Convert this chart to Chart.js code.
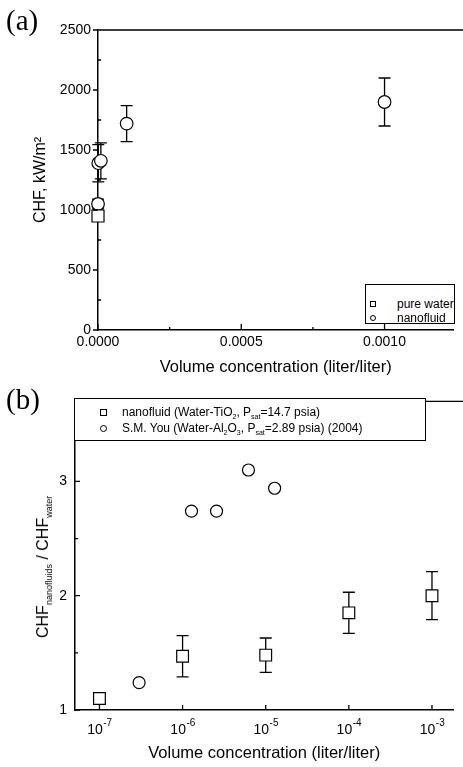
<!DOCTYPE html>
<html>
<head>
<meta charset="utf-8">
<script src="https://cdn.jsdelivr.net/npm/chart.js@4.4.1/dist/chart.umd.min.js"></script>
<style>
  html, body { margin: 0; padding: 0; background: #fff; }
  body { width: 463px; height: 767px; position: relative; overflow: hidden; font-family: "Liberation Sans", Arial, sans-serif; color: #000; }
  canvas { position: absolute; left: 0; }
  #chartA { top: 0; }
  #chartB { top: 385px; }
  .panel { position: absolute; left: 6px; font-family: "Liberation Serif", "Times New Roman", serif; font-size: 29px; line-height: 29px; }
  .legend { position: absolute; border: 1px solid #000; background: #fff; font-size: 12px; box-sizing: border-box; }
  .row { position: absolute; left: 0; white-space: nowrap; line-height: 12px; height: 12px; }
  .sym { position: absolute; border: 1px solid #000; box-sizing: border-box; background: #fff; }
  .txt { position: absolute; top: 0; }
  .sub { font-size: 7px; position: relative; top: 3px; }
  #ytitleB { position: absolute; left: 43px; top: 567px; transform: translate(-50%, -50%) rotate(-90deg); white-space: nowrap; font-size: 16px; }
  #ytitleB .s { font-size: 9px; position: relative; top: 4px; }
</style>
</head>
<body>
<canvas id="chartA" width="463" height="385"></canvas>
<canvas id="chartB" width="463" height="382"></canvas>

<div class="panel" style="top:6px">(a)</div>
<div class="panel" style="top:385px">(b)</div>

<div class="legend" style="left:365px; top:284px; width:90px; height:40px;">
  <div class="row" style="top:13px; width:88px;">
    <div class="sym" style="left:4px; top:3px; width:6px; height:6px;"></div>
    <span class="txt" style="left:31px;">pure water</span>
  </div>
  <div class="row" style="top:27px; width:88px;">
    <div class="sym" style="left:4px; top:3px; width:6px; height:6px; border-radius:50%;"></div>
    <span class="txt" style="left:31px;">nanofluid</span>
  </div>
</div>

<div class="legend" style="left:74px; top:398px; width:352px; height:43px;">
  <div class="row" style="top:7px;">
    <div class="sym" style="left:25px; top:3px; width:7px; height:7px;"></div>
    <span class="txt" style="left:47px;">nanofluid (Water-TiO<span class="sub">2</span>, P<span class="sub">sat</span>=14.7 psia)</span>
  </div>
  <div class="row" style="top:23px;">
    <div class="sym" style="left:25px; top:3px; width:7px; height:7px; border-radius:50%;"></div>
    <span class="txt" style="left:47px;">S.M. You (Water-Al<span class="sub">2</span>O<span class="sub">3</span>, P<span class="sub">sat</span>=2.89 psia) (2004)</span>
  </div>
</div>

<div id="ytitleB">CHF<span class="s">nanofluids</span> / CHF<span class="s">water</span></div>

<script>
// (a) CHF vs volume concentration
const waterX = [0];
const waterY = [950];
const nanoX = [1e-7, 1e-6, 1e-5, 1e-4, 1e-3];
const nanoY = [1050, 1390, 1410, 1720, 1900];
const nanoErr = [40, 155, 150, 150, 200];

const ticksAx = [0, 0.00025, 0.0005, 0.00075, 0.001];
const labelsAx = ['0.0000', '', '0.0005', '', '0.0010'];
const ticksAy = [0, 250, 500, 750, 1000, 1250, 1500, 1750, 2000, 2250, 2500];

// (b) CHF ratio vs volume concentration (log)
const ratioX = [1e-7, 1e-6, 1e-5, 1e-4, 1e-3];
const ratioY = [1.10, 1.47, 1.48, 1.85, 2.00];
const ratioErr = [0.04, 0.18, 0.15, 0.18, 0.21];
const youX = [3e-7, 1.28e-6, 2.56e-6, 6.2e-6, 1.28e-5];
const youY = [1.24, 2.74, 2.74, 3.10, 2.94];

const ticksBx = [1e-7, 1e-6, 1e-5, 1e-4, 1e-3];
const expBx = ['-7', '-6', '-5', '-4', '-3'];
const ticksBy = [1, 1.5, 2, 2.5, 3, 3.5];

const FONT = '"Liberation Sans", Arial, sans-serif';

function pts(xs, ys) {
    return xs.map((x, i) => ({ x: x, y: ys[i] }));
}

// vertical error bars, drawn under the markers
const errorBars = {
    id: 'errorBars',
    beforeDatasetsDraw(chart) {
        const ctx = chart.ctx;
        const xs = chart.scales.x, ys = chart.scales.y;
        ctx.save();
        ctx.strokeStyle = '#000';
        ctx.lineWidth = 1.3;
        chart.data.datasets.forEach(ds => {
            if (!ds.errors) return;
            ds.data.forEach((p, i) => {
                const e = ds.errors[i];
                if (!e) return;
                const px = xs.getPixelForValue(p.x);
                const top = ys.getPixelForValue(p.y + e);
                const bot = ys.getPixelForValue(p.y - e);
                ctx.beginPath();
                ctx.moveTo(px, top); ctx.lineTo(px, bot);
                ctx.moveTo(px - 6, top); ctx.lineTo(px + 6, top);
                ctx.moveTo(px - 6, bot); ctx.lineTo(px + 6, bot);
                ctx.stroke();
            });
        });
        ctx.restore();
    }
};

// tick marks + top frame line
function makeTicks(cfg) {
    return {
        id: 'tickMarks',
        afterDraw(chart) {
            const ctx = chart.ctx;
            const area = chart.chartArea;
            ctx.save();
            ctx.strokeStyle = '#000';
            ctx.lineWidth = 1.3;
            ctx.beginPath();
            ctx.moveTo(area.left, area.top);
            ctx.lineTo(chart.width, area.top);
            const sx = chart.scales.x, sy = chart.scales.y;
            sx.ticks.forEach(t => {
                const major = cfg.xMajor(t.value);
                const len = major ? cfg.xLen[0] : cfg.xLen[1];
                if (!len) return;
                const px = sx.getPixelForValue(t.value);
                ctx.moveTo(px, area.bottom);
                ctx.lineTo(px, area.bottom - len);
            });
            sy.ticks.forEach(t => {
                const major = cfg.yMajor(t.value);
                const len = major ? cfg.yLen[0] : cfg.yLen[1];
                if (!len) return;
                const py = sy.getPixelForValue(t.value);
                ctx.moveTo(area.left, py);
                ctx.lineTo(area.left + len, py);
            });
            ctx.stroke();
            ctx.restore();
        }
    };
}

// 10^n labels for the log axis
const powerLabels = {
    id: 'powerLabels',
    afterDraw(chart) {
        const s = chart.scales.x;
        const ctx = chart.ctx;
        ctx.save();
        ctx.fillStyle = '#000';
        ctx.textBaseline = 'alphabetic';
        ctx.textAlign = 'left';
        ticksBx.forEach((v, i) => {
            const px = s.getPixelForValue(v);
            ctx.font = '14px ' + FONT;
            const w1 = ctx.measureText('10').width;
            ctx.font = '10px ' + FONT;
            const w2 = ctx.measureText(expBx[i]).width;
            const x0 = px - (w1 + w2) / 2;
            const base = s.top + 24;
            ctx.font = '14px ' + FONT;
            ctx.fillText('10', x0, base);
            ctx.font = '10px ' + FONT;
            ctx.fillText(expBx[i], x0 + w1 + 0.5, base - 8);
        });
        ctx.restore();
    }
};

const markerBase = {
    showLine: false,
    clip: false,
    pointBackgroundColor: '#fff',
    pointBorderColor: '#000',
    pointBorderWidth: 1.2,
    pointHoverRadius: 0
};

new Chart(document.getElementById('chartA'), {
    type: 'scatter',
    data: {
        datasets: [
            Object.assign({ label: 'pure water', data: pts(waterX, waterY), pointStyle: 'rect', pointRadius: 8.5 }, markerBase),
            Object.assign({ label: 'nanofluid', data: pts(nanoX, nanoY), errors: nanoErr, pointStyle: 'circle', pointRadius: 6.3 }, markerBase)
        ]
    },
    options: {
        responsive: false,
        animation: false,
        events: [],
        layout: { padding: { top: 30, right: 0, bottom: 0, left: 0 } },
        plugins: { legend: { display: false }, tooltip: { enabled: false } },
        scales: {
            x: {
                type: 'linear',
                min: 0,
                max: 0.00124,
                afterBuildTicks: s => { s.ticks = ticksAx.map(v => ({ value: v })); },
                afterFit: s => { s.height = 55; },
                grid: { display: false, drawTicks: false },
                border: { display: true, color: '#000', width: 1.5 },
                ticks: {
                    autoSkip: false, maxRotation: 0, padding: 4, color: '#000',
                    font: { family: FONT, size: 14 },
                    callback: (v, i) => labelsAx[i]
                },
                title: {
                    display: true, text: 'Volume concentration (liter/liter)', color: '#000',
                    font: { family: FONT, size: 16.5 }, padding: { top: 0, bottom: 8 }
                }
            },
            y: {
                min: 0,
                max: 2500,
                afterBuildTicks: s => { s.ticks = ticksAy.map(v => ({ value: v })); },
                afterFit: s => { s.width = 98; },
                grid: { display: false, drawTicks: false },
                border: { display: true, color: '#000', width: 1.5 },
                ticks: {
                    autoSkip: false, padding: 7, color: '#000',
                    font: { family: FONT, size: 14 },
                    callback: v => (v % 500 === 0 ? String(v) : '')
                },
                title: {
                    display: true, text: 'CHF, kW/m²', color: '#000',
                    font: { family: FONT, size: 16 }, padding: { top: 31, bottom: 0 }
                }
            }
        }
    },
    plugins: [errorBars, makeTicks({
        xMajor: v => Math.abs(v * 2000 - Math.round(v * 2000)) < 1e-6,
        xLen: [6, 3],
        yMajor: v => v % 500 === 0,
        yLen: [-5, 3]
    })]
});

new Chart(document.getElementById('chartB'), {
    type: 'scatter',
    data: {
        datasets: [
            Object.assign({ label: 'nanofluid (Water-TiO2, Psat=14.7 psia)', data: pts(ratioX, ratioY), errors: ratioErr, pointStyle: 'rect', pointRadius: 8.3 }, markerBase),
            Object.assign({ label: 'S.M. You (Water-Al2O3, Psat=2.89 psia) (2004)', data: pts(youX, youY), pointStyle: 'circle', pointRadius: 6 }, markerBase)
        ]
    },
    options: {
        responsive: false,
        animation: false,
        events: [],
        layout: { padding: { top: 14, right: 0, bottom: 0, left: 0 } },
        plugins: { legend: { display: false }, tooltip: { enabled: false } },
        scales: {
            x: {
                type: 'logarithmic',
                min: 5.08e-8,
                max: 1.815e-3,
                afterBuildTicks: s => { s.ticks = ticksBx.map(v => ({ value: v })); },
                afterFit: s => { s.height = 57; },
                grid: { display: false, drawTicks: false },
                border: { display: true, color: '#000', width: 1.5 },
                ticks: { display: false },
                title: {
                    display: true, text: 'Volume concentration (liter/liter)', color: '#000',
                    font: { family: FONT, size: 16.5 }, padding: { top: 0, bottom: 4 }
                }
            },
            y: {
                min: 1,
                max: 3.7,
                afterBuildTicks: s => { s.ticks = ticksBy.map(v => ({ value: v })); },
                afterFit: s => { s.width = 75; },
                grid: { display: false, drawTicks: false },
                border: { display: true, color: '#000', width: 1.5 },
                ticks: {
                    autoSkip: false, padding: 8, color: '#000',
                    font: { family: FONT, size: 14 },
                    callback: v => (Number.isInteger(v) ? String(v) : '')
                }
            }
        }
    },
    plugins: [errorBars, powerLabels, makeTicks({
        xMajor: () => true,
        xLen: [5, 0],
        yMajor: v => Number.isInteger(v),
        yLen: [5, 3]
    })]
});
</script>
</body>
</html>
